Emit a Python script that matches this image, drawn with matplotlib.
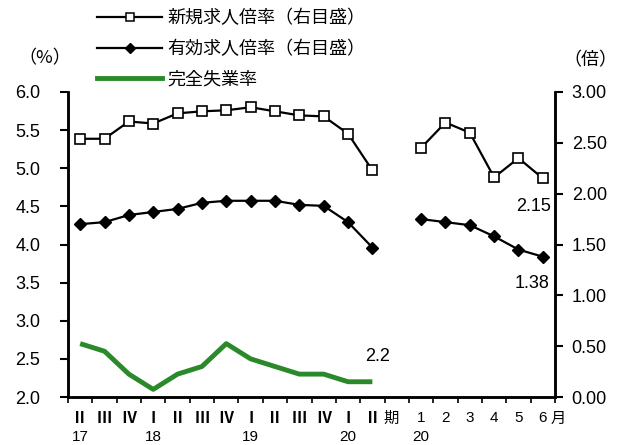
import numpy as np
import matplotlib
matplotlib.use("Agg")
import matplotlib.pyplot as plt
from matplotlib.lines import Line2D

plt.rcParams['font.family'] = ['Liberation Sans', 'Noto Sans CJK JP', 'DejaVu Sans']

# x categories: 13 quarters, one blank slot, then 6 months
quarter_labels = ['Ⅱ', 'Ⅲ', 'Ⅳ', 'Ⅰ', 'Ⅱ', 'Ⅲ', 'Ⅳ', 'Ⅰ', 'Ⅱ', 'Ⅲ', 'Ⅳ', 'Ⅰ', 'Ⅱ']
month_labels = ['1', '2', '3', '4', '5', '6']
year_labels = ['17', '18', '19', '20']
year_pos = [0, 3, 7, 11]
month_year_label = '20'

# 新規求人倍率 (right axis)
new_q = [2.54, 2.54, 2.71, 2.69, 2.79, 2.81, 2.82, 2.85, 2.81, 2.77, 2.76, 2.59, 2.23]
new_m = [2.45, 2.70, 2.60, 2.16, 2.35, 2.15]
# 有効求人倍率 (right axis)
eff_q = [1.70, 1.72, 1.79, 1.82, 1.85, 1.91, 1.93, 1.93, 1.93, 1.89, 1.88, 1.72, 1.47]
eff_m = [1.75, 1.72, 1.69, 1.58, 1.45, 1.38]
# 完全失業率 (left axis, %)
unemp_q = [2.7, 2.6, 2.3, 2.1, 2.3, 2.4, 2.7, 2.5, 2.4, 2.3, 2.3, 2.2, 2.2]

xq = np.arange(len(quarter_labels))
xm = np.arange(len(month_labels)) + len(quarter_labels) + 1
n_cat = len(quarter_labels) + 1 + len(month_labels)

green = '#2a8a2a'
jp = ['Noto Sans CJK JP', 'DejaVu Sans']

fig = plt.figure(figsize=(6.26, 4.45), dpi=100)
ax = fig.add_axes([68 / 626, 48 / 445, 487 / 626, 305 / 445])
ax2 = ax.twinx()

ax.plot(xq, unemp_q, color=green, lw=3.5, solid_capstyle='butt')
ax2.plot(xq, new_q, color='black', lw=1.6, marker='s', ms=7.5, mfc='white', mec='black', mew=1.2)
ax2.plot(xm, new_m, color='black', lw=1.6, marker='s', ms=7.5, mfc='white', mec='black', mew=1.2)
ax2.plot(xq, eff_q, color='black', lw=1.6, marker='D', ms=6, mfc='black', mec='black')
ax2.plot(xm, eff_m, color='black', lw=1.6, marker='D', ms=6, mfc='black', mec='black')

ax.set_xlim(-0.5, n_cat - 0.5)
ax.set_ylim(2.0, 6.0)
ax2.set_ylim(0.0, 3.0)
ax.set_yticks(np.arange(2.0, 6.01, 0.5))
ax.set_yticklabels([f'{v:.1f}' for v in np.arange(2.0, 6.01, 0.5)])
ax2.set_yticks(np.arange(0.0, 3.01, 0.5))
ax2.set_yticklabels([f'{v:.2f}' for v in np.arange(0.0, 3.01, 0.5)])
ax.set_xticks(np.arange(-0.5, n_cat, 1.0))
ax.set_xticklabels([])

for a in (ax, ax2):
    a.spines['top'].set_visible(False)
    for s in ('left', 'right', 'bottom'):
        a.spines[s].set_linewidth(1.8)
ax.tick_params(axis='y', direction='out', length=6, width=1.5, labelsize=13, pad=14)
ax2.tick_params(axis='y', direction='out', length=6, width=1.5, labelsize=13, pad=6)
ax.tick_params(axis='x', direction='out', length=4, width=1.2)

# x labels
tr = ax.get_xaxis_transform()
row1, row2 = -0.07, -0.13
for x, lab in zip(xq, quarter_labels):
    ax.text(x, row1, lab, transform=tr, ha='center', va='center', fontsize=11,
            family=jp, weight='bold')
for x, lab in zip(xm, month_labels):
    ax.text(x, row1, lab, transform=tr, ha='center', va='center', fontsize=11)
ax.text(xq[-1] + 0.75, row1, '期', transform=tr, ha='center', va='center', fontsize=11, family=jp)
ax.text(xm[-1] + 0.65, row1, '月', transform=tr, ha='center', va='center', fontsize=11, family=jp)
for p, lab in zip(year_pos, year_labels):
    ax.text(xq[p], row2, lab, transform=tr, ha='center', va='center', fontsize=11)
ax.text(xm[0], row2, month_year_label, transform=tr, ha='center', va='center', fontsize=11)

# data labels
ax.annotate(f'{unemp_q[-1]:.1f}', (xq[-1], unemp_q[-1]), xytext=(4, 18), textcoords='offset points',
            ha='center', va='center', fontsize=13)
ax2.annotate(f'{new_m[-1]:.2f}', (xm[-1], new_m[-1]), xytext=(-7, -20), textcoords='offset points',
             ha='center', va='center', fontsize=13)
ax2.annotate(f'{eff_m[-1]:.2f}', (xm[-1], eff_m[-1]), xytext=(-8, -19), textcoords='offset points',
             ha='center', va='center', fontsize=13)

# unit labels
fig.text(45 / 626, 1 - 58 / 445, '（%）', ha='center', va='center', fontsize=13, family=jp)
fig.text(590 / 626, 1 - 60 / 445, '（倍）', ha='center', va='center', fontsize=13, family=jp)

handles = [
    Line2D([], [], color='black', lw=1.6, marker='s', ms=6, mfc='white', mec='black', mew=1.1),
    Line2D([], [], color='black', lw=1.6, marker='D', ms=5, mfc='black'),
    Line2D([], [], color=green, lw=3.5),
]
labels = ['新規求人倍率（右目盛）', '有効求人倍率（右目盛）', '完全失業率']
fig.legend(handles, labels, loc='upper left', bbox_to_anchor=(90 / 626, 1 - 2 / 445),
           frameon=False, prop={'family': jp, 'size': 13}, handlelength=3.6,
           labelspacing=0.7, handletextpad=0.3, borderaxespad=0)

fig.savefig('out.png', dpi=100)
